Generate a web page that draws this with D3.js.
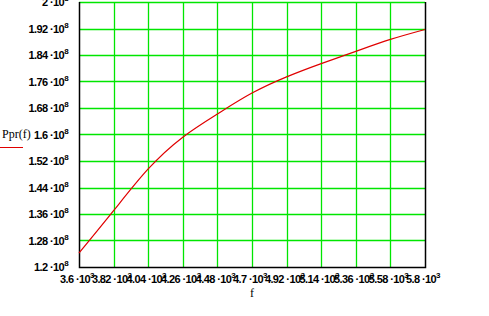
<!DOCTYPE html>
<html>
<head>
<meta charset="utf-8">
<script src="https://cdn.jsdelivr.net/npm/d3@7"></script>
<style>
  body { margin: 0; background: #fff; }
  text { font-family: "Liberation Sans", Arial, sans-serif; font-size: 11px; font-weight: bold; fill: #000; }
  text.ttl { font-family: "Liberation Serif", serif; font-weight: normal; font-size: 12px; }
</style>
</head>
<body>
<div class="wrapper"></div>
<script>
// data (f in 10^3, Ppr in 10^8)
var fVals   = [3.6, 3.82, 4.04, 4.26, 4.48, 4.7, 4.92, 5.14, 5.36, 5.58, 5.8];
var pprVals = [1.242, 1.370, 1.496, 1.592, 1.662, 1.725, 1.774, 1.814, 1.851, 1.887, 1.917];
var xTicks  = [3.6, 3.82, 4.04, 4.26, 4.48, 4.7, 4.92, 5.14, 5.36, 5.58, 5.8];
var yTicks  = [1.2, 1.28, 1.36, 1.44, 1.52, 1.6, 1.68, 1.76, 1.84, 1.92, 2];
var xExp = '3', yExp = '8';

var margin = {top: 2, right: 64, bottom: 49, left: 79},
    width  = 489 - margin.left - margin.right,
    height = 316 - margin.top  - margin.bottom;

var svg = d3.select('.wrapper').append('svg')
            .attr('width', 489)
            .attr('height', 316);

var g = svg.append('g').attr('transform', 'translate(' + margin.left + ',' + margin.top + ')');

var x = d3.scaleLinear().domain([3.6, 5.8]).range([0, width]);
var y = d3.scaleLinear().domain([1.2, 2]).range([height, 0]);

// grid
g.selectAll('.vg').data(xTicks.slice(1, -1)).enter().append('line')
  .attr('x1', d => Math.round(x(d)) + 0.5).attr('x2', d => Math.round(x(d)) + 0.5)
  .attr('y1', 0).attr('y2', height)
  .attr('stroke', '#00e600').attr('stroke-width', 1.3);
g.selectAll('.hg').data(yTicks.slice(1)).enter().append('line')
  .attr('y1', d => Math.round(y(d)) + 0.5).attr('y2', d => Math.round(y(d)) + 0.5)
  .attr('x1', 0).attr('x2', width)
  .attr('stroke', '#00e600').attr('stroke-width', 1.3);

// frame
g.append('path')
  .attr('d', 'M0.5,0V' + (height + 0.5) + 'H' + (width + 0.5) + 'V0')
  .attr('fill', 'none').attr('stroke', '#000').attr('stroke-width', 1.5);

// curve
var line = d3.line().x((d, i) => x(fVals[i])).y(d => y(d)).curve(d3.curveNatural);
g.append('path').datum(pprVals)
  .attr('d', line)
  .attr('fill', 'none').attr('stroke', '#e00000').attr('stroke-width', 1.2);

// y labels
var yl = g.selectAll('.yl').data(yTicks).enter().append('text')
  .attr('x', -11).attr('y', d => y(d) + 4)
  .attr('text-anchor', 'end')
  .attr('letter-spacing', '-0.6');
yl.append('tspan').text(d => d + ' \u00b710');
yl.append('tspan').attr('dy', -5).attr('font-size', 8).text(yExp);

// x labels
var xl = g.selectAll('.xl').data(xTicks).enter().append('text')
  .attr('x', d => x(d) - 2).attr('y', height + 16)
  .attr('text-anchor', 'middle')
  .attr('letter-spacing', '-0.6');
xl.append('tspan').text(d => d + ' \u00b710');
xl.append('tspan').attr('dy', -5).attr('font-size', 8).text(xExp);

// axis titles
svg.append('text').attr('class', 'ttl').attr('x', 250).attr('y', 297).text('f');
svg.append('text').attr('class', 'ttl').attr('x', 2).attr('y', 138).text('Ppr(f)');
svg.append('line').attr('x1', 0).attr('x2', 23).attr('y1', 147.5).attr('y2', 147.5)
  .attr('stroke', '#e00000').attr('stroke-width', 1);
</script>
</body>
</html>
